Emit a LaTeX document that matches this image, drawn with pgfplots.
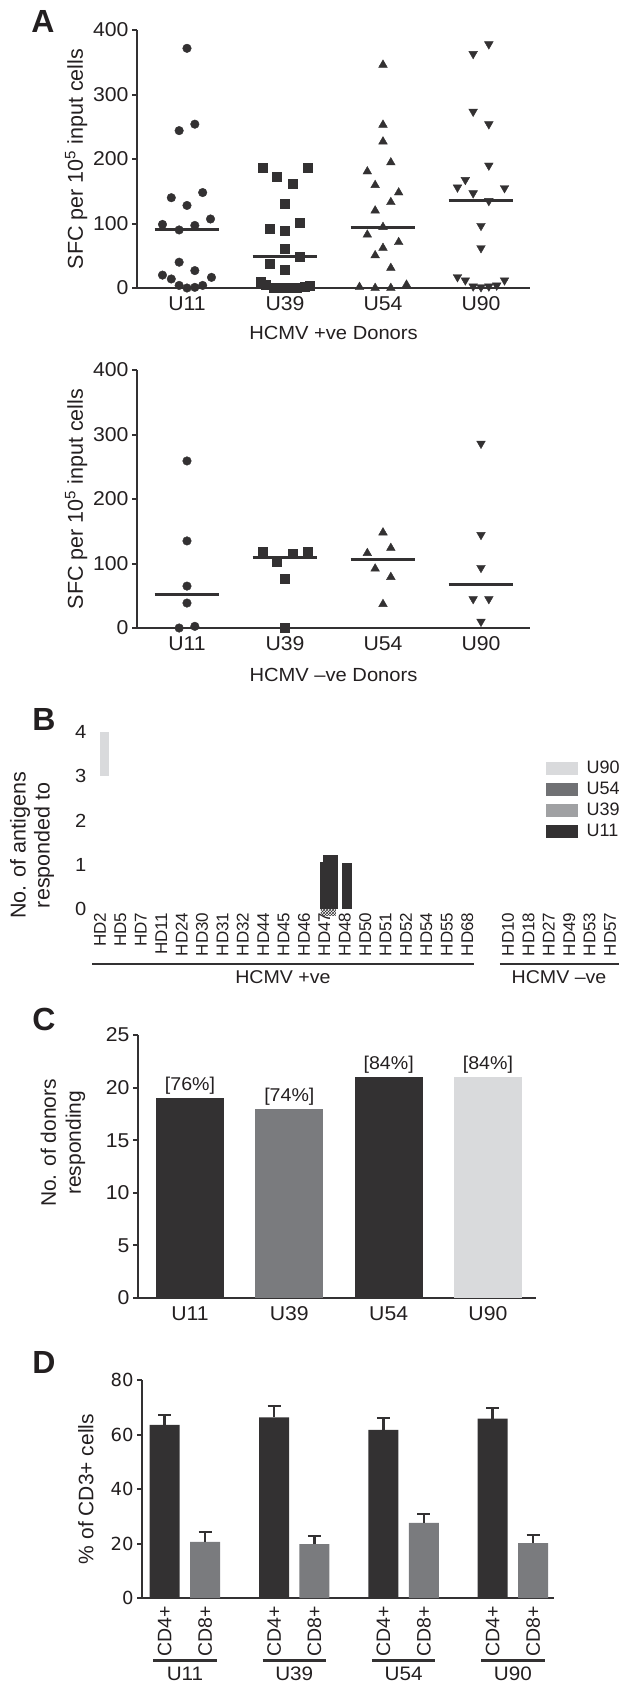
\documentclass[border=0pt]{standalone}
\usepackage{fontspec}
\setmainfont{Liberation Sans}
\newfontfamily\wf{Liberation Sans}[FakeStretch=1.06]
\newfontfamily\dvs{DejaVu Sans}
\usepackage{pgfplots}
\pgfplotsset{compat=1.18}
\usetikzlibrary{patterns}
\definecolor{cDark}{RGB}{51,49,50}
\definecolor{cText}{RGB}{35,31,32}
\definecolor{cGray}{RGB}{122,123,126}
\definecolor{cLight}{RGB}{217,218,220}
\definecolor{cUfs}{RGB}{112,113,116}
\definecolor{cUtn}{RGB}{160,161,163}
\newcommand{\fs}[2]{\fontsize{#1}{#2}\selectfont}
\pgfplotsset{
  gp/.style={
    scale only axis, clip=false, enlargelimits=false,
    axis lines=left,
    axis line style={-, line width=2.5pt, draw=cDark},
    tick style={line width=2pt, draw=cDark},
    tick align=outside, major tick length=5pt,
    xtick style={draw=none},
    ticklabel style={font=\wf\fs{20}{24}, text=cText},
    label style={font=\fs{21}{25}, text=cText},
    /pgf/number format/assume math mode=true,
  },
  scat/.style={gp, width=393pt, height=258pt, xmin=0.49, xmax=4.5,
    ymin=0, ymax=400, ytick={0,100,200,300,400},
    xtick={1,2,3,4}, xticklabels={U11,U39,U54,U90},
    ylabel={SFC per 10\textsuperscript{5} input cells},
    ylabel style={font=\fs{21.5}{25}, at={(axis description cs:-0.155,0.5)}, anchor=center}},
  mk/.style={only marks, cDark, mark options={fill=cDark, draw=cDark}},
  med/.style={line width=3pt, cDark, no marks},
  dbar/.style={ybar, bar width=30pt, bar shift=0pt, draw=none,
    error bars/y dir=plus, error bars/y explicit,
    error bars/error bar style={line width=2.5pt, cDark},
    error bars/error mark options={rotate=90, mark size=6.5pt, line width=2.5pt, cDark}},
}
\begin{document}
\begin{tikzpicture}
\useasboundingbox (0pt,0pt) rectangle (623pt,-1687pt);

% ---------- Panel A top ----------
\begin{axis}[scat, at={(137pt,-288pt)}, anchor=south west,
  xlabel={HCMV +ve Donors},
  xlabel style={font=\wf\fs{19}{23}, at={(axis description cs:0.5,-0.174)}, anchor=center}]
\addplot[mk, mark=*, mark size=4.3pt] coordinates {
(1,371.6) (0.92,244) (1.08,254) (0.84,140) (1.16,148) (1,128) (0.75,98.6) (0.92,90) (1.08,97) (1.24,107)
(0.92,40) (0.75,20) (0.84,14) (1.08,27) (1.25,16.5) (0.92,4) (1,0) (1.08,1) (1.16,4)};
\addplot[med] coordinates {(0.67,90) (1.33,90)};
\addplot[mk, mark=square*, mark size=4.5pt] coordinates {
(1.77,186) (2.23,186) (1.92,173) (2.08,161.5) (2,130) (2.155,101.7) (1.845,92) (2,89) (2,61) (2.155,49)
(1.845,37.7) (2,28) (1.75,10) (1.8,5) (1.88,1) (1.96,0) (2.04,0) (2.12,0) (2.2,2) (2.25,4)};
\addplot[med] coordinates {(1.67,49.5) (2.33,49.5)};
\addplot[mk, mark=triangle*, mark size=5pt] coordinates {
(3,346) (3,253) (3,227) (3.08,194.6) (2.84,180.6) (2.92,159.5) (3.16,148) (3.08,133) (2.92,120) (3,94.5)
(2.84,82.6) (3.16,71) (3,62) (2.92,50.6) (3.08,31) (2.76,1.5) (2.92,0) (3.08,0) (3.24,5)};
\addplot[med] coordinates {(2.67,94.5) (3.33,94.5)};
\addplot[mk, mark=triangle*, mark size=5pt, mark options={rotate=180}] coordinates {
(4.08,378) (3.92,363) (3.92,273.5) (4.08,254) (4.08,190) (3.84,167.7) (3.76,156) (4.24,155) (3.92,147) (4.08,135)
(4,96.5) (4,62) (3.76,17) (3.84,12) (3.92,2.6) (4,1.5) (4.08,2.6) (4.16,4) (4.24,12)};
\addplot[med] coordinates {(3.67,135) (4.33,135)};
\end{axis}

% ---------- Panel A bottom ----------
\begin{axis}[scat, at={(137pt,-628pt)}, anchor=south west,
  xlabel={HCMV \textendash ve Donors},
  xlabel style={font=\wf\fs{19}{23}, at={(axis description cs:0.5,-0.182)}, anchor=center}]
\addplot[mk, mark=*, mark size=4.3pt] coordinates {(1,259) (1,135) (1,65) (1,38.7) (0.92,0) (1.08,2.6)};
\addplot[med] coordinates {(0.67,52.6) (1.33,52.6)};
\addplot[mk, mark=square*, mark size=4.5pt] coordinates {(1.77,118.7) (1.92,103) (2.08,115) (2.23,118.7) (2,76) (2,0)};
\addplot[med] coordinates {(1.67,110) (2.33,110)};
\addplot[mk, mark=triangle*, mark size=5pt] coordinates {(3,148) (2.84,116) (3.08,124) (2.92,92) (3.08,79) (3,37)};
\addplot[med] coordinates {(2.67,105.8) (3.33,105.8)};
\addplot[mk, mark=triangle*, mark size=5pt, mark options={rotate=180}] coordinates {(4,286) (4,144.5) (4,93.4) (3.92,45) (4.08,45) (4,10)};
\addplot[med] coordinates {(3.67,68) (4.33,68)};
\end{axis}

% ---------- Panel B ----------
\begin{axis}[scale only axis, clip=false, enlargelimits=false,
  width=530.4pt, height=177pt, at={(89.8pt,-909pt)}, anchor=south west,
  xmin=-0.5, xmax=25.5, ymin=0, ymax=4,
  axis line style={draw=none}, tick style={draw=none},
  ytick={0,1,2,3,4},
  xtick={0,1,2,3,4,5,6,7,8,9,10,11,12,13,14,15,16,17,18,20,21,22,23,24,25},
  xticklabels={HD2,HD5,HD7,HD11,HD24,HD30,HD31,HD32,HD44,HD45,HD46,HD47,HD48,HD50,HD51,HD52,HD54,HD55,HD68,HD10,HD18,HD27,HD49,HD53,HD57},
  xticklabel style={rotate=90, anchor=east, font=\fs{17}{20}, text=cText},
  yticklabel style={font=\wf\fs{19}{22}, text=cText},
  /pgf/number format/assume math mode=true,
  ylabel={No. of antigens\\responded to},
  ylabel style={align=center, font=\fs{21.5}{24}, text=cText, at={(axis description cs:-0.109,0.36)}, anchor=center},
  legend style={draw=none, fill=none, at={(axis cs:21.86,3.38)}, anchor=north west,
    font=\fs{18}{20}, text=cText, row sep=4pt, inner sep=0pt, column sep=7pt,
    nodes={inner sep=1.5pt}},
  legend cell align=left,
  legend image code/.code={\fill[#1] (0pt,-6.5pt) rectangle (32pt,6.5pt);},
]
\addplot[fill=cLight, draw=none, forget plot] coordinates {(0,3) (0.44,3) (0.44,4) (0,4)} -- cycle;
\addplot[ybar, bar width=15pt, bar shift=0pt, fill=cDark, draw=none, forget plot] coordinates {(11.30,1.22)};
\addplot[ybar, bar width=4pt, bar shift=0pt, fill=cDark, draw=none, forget plot] coordinates {(10.88,1.06)};
\addplot[ybar, bar width=10pt, bar shift=0pt, fill=cDark, draw=none, forget plot] coordinates {(12.11,1.04)};
\addplot[ybar, bar width=15pt, bar shift=0pt, pattern=crosshatch, pattern color=cDark, draw=none, forget plot] coordinates {(11.20,-0.15)};
\addplot[line width=2.5pt, cDark, forget plot] coordinates {(-0.39,-1.24) (18.33,-1.24)};
\addplot[line width=2.5pt, cDark, forget plot] coordinates {(19.6,-1.24) (25.45,-1.24)};
\node[font=\wf\fs{18.5}{20}, text=cText] at (axis cs:8.97,-1.535) {HCMV +ve};
\node[font=\wf\fs{18.5}{20}, text=cText] at (axis cs:22.5,-1.535) {HCMV \textendash ve};
\addlegendimage{fill=cLight, draw=none}\addlegendentry{U90}
\addlegendimage{fill=cUfs, draw=none}\addlegendentry{U54}
\addlegendimage{fill=cUtn, draw=none}\addlegendentry{U39}
\addlegendimage{fill=cDark, draw=none}\addlegendentry{U11}
\end{axis}

% ---------- Panel C ----------
\begin{axis}[gp, width=397.6pt, height=263pt, at={(138pt,-1298pt)}, anchor=south west,
  xmin=0.476, xmax=4.48, ymin=0, ymax=25, ytick={0,5,10,15,20,25},
  xtick={1,2,3,4}, xticklabels={U11,U39,U54,U90},
  ylabel={No. of donors\\responding},
  ylabel style={align=center, at={(axis description cs:-0.189,0.59)}, anchor=center},
  nodes near coords style={font=\wf\fs{18.5}{20}, text=cText},
]
\addplot[ybar, bar width=68pt, bar shift=0pt, fill=cDark, draw=none, point meta=explicit symbolic, nodes near coords={{[}\pgfplotspointmeta\%{]}}] coordinates {(1,19) [76]};
\addplot[ybar, bar width=68pt, bar shift=0pt, fill=cGray, draw=none, point meta=explicit symbolic, nodes near coords={{[}\pgfplotspointmeta\%{]}}] coordinates {(2,18) [74]};
\addplot[ybar, bar width=68pt, bar shift=0pt, fill=cDark, draw=none, point meta=explicit symbolic, nodes near coords={{[}\pgfplotspointmeta\%{]}}] coordinates {(3,21) [84]};
\addplot[ybar, bar width=68pt, bar shift=0pt, fill=cLight, draw=none, point meta=explicit symbolic, nodes near coords={{[}\pgfplotspointmeta\%{]}}] coordinates {(4,21) [84]};
\end{axis}

% ---------- Panel D ----------
\begin{axis}[gp, width=412pt, height=218pt, at={(142pt,-1598pt)}, anchor=south west,
  xmin=0.607, xmax=4.376, ymin=0, ymax=80, ytick={0,20,40,60,80},
  yticklabel style={font=\dvs\fs{18}{20}},
  xtick={0.815,1.185,1.815,2.185,2.815,3.185,3.815,4.185},
  xticklabels={CD4+,CD8+,CD4+,CD8+,CD4+,CD8+,CD4+,CD8+},
  xticklabel style={rotate=90, anchor=east, font=\fs{19.5}{22}},
  ylabel={\% of CD3+ cells},
  ylabel style={at={(axis description cs:-0.136,0.5)}, anchor=center},
]
\addplot[fill=cDark, dbar] coordinates {(0.815,63.5) +- (0,3.7) (1.815,66.3) +- (0,4.2) (2.815,61.7) +- (0,4.4) (3.815,65.8) +- (0,4.0)};
\addplot[fill=cGray, dbar] coordinates {(1.185,20.6) +- (0,3.6) (2.185,19.8) +- (0,3.0) (3.185,27.6) +- (0,3.2) (4.185,20.1) +- (0,3.0)};
\addplot[line width=2.5pt, cDark] coordinates {(0.71,-23.0) (1.29,-23.0)};
\addplot[line width=2.5pt, cDark] coordinates {(1.71,-23.0) (2.29,-23.0)};
\addplot[line width=2.5pt, cDark] coordinates {(2.71,-23.0) (3.29,-23.0)};
\addplot[line width=2.5pt, cDark] coordinates {(3.71,-23.0) (4.29,-23.0)};
\node[font=\wf\fs{19.5}{22}, text=cText] at (axis cs:1,-27.8) {U11};
\node[font=\wf\fs{19.5}{22}, text=cText] at (axis cs:2,-27.8) {U39};
\node[font=\wf\fs{19.5}{22}, text=cText] at (axis cs:3,-27.8) {U54};
\node[font=\wf\fs{19.5}{22}, text=cText] at (axis cs:4,-27.8) {U90};
\end{axis}

% panel letters
\node[font=\bfseries\fs{32}{36}, text=cText] at (43pt,-21pt) {A};
\node[font=\bfseries\fs{32}{36}, text=cText] at (44pt,-719pt) {B};
\node[font=\bfseries\fs{32}{36}, text=cText] at (44pt,-1019pt) {C};
\node[font=\bfseries\fs{32}{36}, text=cText] at (44pt,-1362pt) {D};
\end{tikzpicture}
\end{document}
